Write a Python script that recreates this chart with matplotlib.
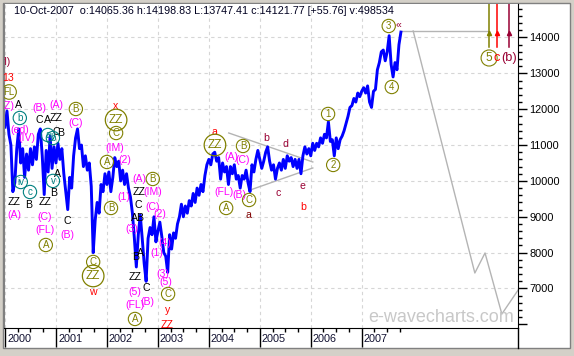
import matplotlib.pyplot as plt
from matplotlib.lines import Line2D
from matplotlib.patches import Rectangle

# DJIA swing points, ~2 per month, per year
dji_2000 = [11500, 11950, 11300, 11000, 9700, 9950, 10900, 11450, 10500, 10900, 10100, 10750, 10300,
            10900, 10450, 10950, 10600, 11300, 11450, 10700, 9620, 10850, 10250, 11250, 10350, 10950]
dji_2001 = [10500, 11050, 10600, 10900, 10200, 9700, 9200, 10100, 9800, 10700, 11200, 11450, 10900,
            11000, 10400, 10700, 10300, 10500, 9850, 8000, 8900, 9400, 9100, 9900, 9700, 10200]
dji_2002 = [9900, 10250, 9700, 10100, 10650, 10400, 10550, 10000, 10300, 9900, 10200, 9800, 9550,
            9100, 8400, 7600, 8500, 9050, 8400, 7700, 7200, 8400, 8700, 8500, 9000, 8300]
dji_2003 = [8600, 8850, 8450, 8000, 7900, 7450, 8500, 8100, 8550, 8400, 8800, 9000, 9350,
            9000, 9300, 9100, 9450, 9300, 9650, 9400, 9800, 9600, 9900, 9700, 10150, 10450]
dji_2004 = [10600, 10450, 10750, 10800, 10550, 10650, 10050, 10500, 10250, 10400, 9900, 10400, 10200,
            10450, 10050, 10150, 9800, 10150, 10050, 10300, 9950, 9700, 10450, 10250, 10600, 10850]
dji_2005 = [10600, 10350, 10550, 10800, 10950, 10550, 10300, 10450, 10050, 10350, 10500, 10300, 10600,
            10350, 10700, 10550, 10650, 10400, 10600, 10350, 10600, 10200, 10700, 10950, 10750, 10900]
dji_2006 = [10700, 11050, 10850, 11050, 10950, 11200, 11050, 11300, 11200, 11650, 11100, 11150, 10700,
            11200, 10900, 11150, 11250, 11400, 11600, 11800, 12050, 12100, 12300, 12200, 12450, 12350]
dji_2007 = [12500, 12600, 12450, 12650, 12200, 12050, 12500, 12550, 13100, 13300, 13600, 13650, 13350,
            13600, 14050, 13250, 12900, 13300, 13100, 13800, 14150]
price_years = [2000, 2001, 2002, 2003, 2004, 2005, 2006, 2007]
price_series = [dji_2000, dji_2001, dji_2002, dji_2003, dji_2004, dji_2005, dji_2006, dji_2007]

# projected path (gray)
proj_t = [2008.01, 2009.22, 2009.42, 2009.75, 2010.07]
proj_v = [14181, 7432, 7990, 6288, 6958]
flat_t = [2007.77, 2009.50]
flat_v = [14181, 14181]
# triangle boundaries
tri_upper_t, tri_upper_v = [2004.39, 2006.04], [11337, 10528]
tri_lower_t, tri_lower_v = [2004.81, 2006.04], [9746, 10361]
# time markers at top right
mark_t = [2009.50, 2009.65, 2009.89]

header = "10-Oct-2007  o:14065.36 h:14198.83 L:13747.41 c:14121.77 [+55.76] v:498534"

M, O, R, DR, K, T = '#ff00ff', '#808000', '#ff0000', '#990033', '#000000', '#008080'
mark_colors = [O, R, DR]

# wave labels: text, year, value, colour, kind (t plain, c circle, C big circle, big = right side)
labels = [
    ("(fl)", 1999.98, 13317, DR, 't'), ("13", 2000.06, 12870, R, 't'),
    ("FL", 2000.08, 12480, O, 'c'), ("(ZZ)", 1999.98, 12090, M, 't'),
    ("A", 2000.27, 12117, K, 't'), ("b", 2000.29, 11755, T, 'c'),
    ("(ed)", 2000.29, 11420, M, 't'), ("(IV)", 2000.43, 11197, M, 't'),
    ("C", 2000.67, 11699, K, 't'), ("A", 2000.84, 11699, K, 't'),
    ("ZZ", 2001.00, 11755, K, 't'), ("C", 2001.00, 11364, K, 't'),
    ("B", 2001.10, 11336, K, 't'), ("a", 2000.84, 11281, T, 'c'),
    ("b", 2000.94, 11197, T, 'c'), ("(B)", 2000.67, 12034, M, 't'),
    ("(A)", 2001.00, 12117, M, 't'), ("B", 2001.39, 12006, O, 'c'),
    ("(C)", 2001.39, 11615, M, 't'), ("A", 2001.02, 10193, K, 't'),
    ("iv", 2000.31, 9970, T, 'c'), ("v", 2000.94, 10000, T, 'c'),
    ("c", 2000.49, 9691, T, 'c'), ("ZZ", 2000.18, 9412, K, 't'),
    ("B", 2000.47, 9329, K, 't'), ("ZZ", 2000.78, 9412, K, 't'),
    ("B", 2000.96, 9663, K, 't'), ("(A)", 2000.18, 9050, M, 't'),
    ("(C)", 2000.78, 8994, M, 't'), ("(FL)", 2000.78, 8632, M, 't'),
    ("A", 2000.80, 8213, O, 'c'), ("C", 2001.22, 8882, K, 't'),
    ("(B)", 2001.22, 8492, M, 't'), ("C", 2001.73, 7740, O, 'c'),
    ("ZZ", 2001.73, 7349, O, 'C'), ("w", 2001.73, 6902, R, 't'),
    ("x", 2002.16, 12090, R, 't'), ("ZZ", 2002.18, 11699, O, 'C'),
    ("C", 2002.18, 11336, O, 'c'), ("(IM)", 2002.16, 10918, M, 't'),
    ("A", 2002.00, 10528, O, 'c'), ("(2)", 2002.35, 10584, M, 't'),
    ("B", 2002.08, 9245, O, 'c'), ("(1)", 2002.34, 9552, M, 't'),
    ("ZZ", 2002.63, 9691, K, 't'), ("(A)", 2002.63, 10054, M, 't'),
    ("B", 2002.90, 10054, O, 'c'), ("(IM)", 2002.90, 9691, M, 't'),
    ("C", 2002.61, 9329, K, 't'), ("(C)", 2002.90, 9273, M, 't'),
    ("AB", 2002.61, 8966, K, 't'), ("(2)", 2003.04, 9078, M, 't'),
    ("(3)", 2002.49, 8660, M, 't'), ("A", 2002.65, 7990, K, 't'),
    ("B", 2002.57, 7879, K, 't'), ("ZZ", 2002.55, 7321, K, 't'),
    ("C", 2002.77, 7015, K, 't'), ("(5)", 2002.55, 6902, M, 't'),
    ("(FL)", 2002.55, 6540, M, 't'), ("(B)", 2002.79, 6624, M, 't'),
    ("A", 2002.55, 6150, O, 'c'), ("(4)", 2003.14, 8269, M, 't'),
    ("(1)", 2002.98, 7990, M, 't'), ("(3)", 2003.10, 7405, M, 't'),
    ("(5)", 2003.16, 7182, M, 't'), ("C", 2003.20, 6847, O, 'c'),
    ("y", 2003.20, 6401, R, 't'), ("ZZ", 2003.18, 5983, R, 't'),
    ("a", 2004.10, 11364, R, 't'), ("ZZ", 2004.12, 11002, O, 'C'),
    ("B", 2004.67, 10974, O, 'c'), ("(A)", 2004.45, 10667, M, 't'),
    ("(C)", 2004.67, 10584, M, 't'), ("(FL)", 2004.30, 9691, M, 't'),
    ("(B)", 2004.59, 9607, M, 't'), ("C", 2004.79, 9468, O, 'c'),
    ("A", 2004.34, 9245, O, 'c'), ("a", 2004.77, 9050, '#800000', 't'),
    ("b", 2005.12, 11197, DR, 't'), ("d", 2005.51, 11030, DR, 't'),
    ("c", 2005.36, 9663, DR, 't'), ("e", 2005.83, 9858, DR, 't'),
    ("b", 2005.85, 9273, R, 't'), ("1", 2006.34, 11867, O, 'c'),
    ("2", 2006.44, 10445, O, 'c'), ("3", 2007.53, 14321, O, 'c'),
    ("\u00ab", 2007.73, 14349, DR, 't'), ("4", 2007.59, 12619, O, 'c'),
    ("5", 2009.50, 13428, O, 'cb'), ("c", 2009.65, 13428, R, 'tb'),
    ("(b)", 2009.89, 13428, DR, 'tb'),
]

plt.rcParams['font.family'] = ['Liberation Sans', 'DejaVu Sans']

W, H = 574, 356
fig = plt.figure(figsize=(W / 100, H / 100), dpi=100, facecolor='#d4d0c8')
fig.add_artist(Rectangle((3 / W, 1 - 348 / H), 567 / W, 345 / H, transform=fig.transFigure,
                         fc='white', ec='#808080', lw=1, zorder=-10))
ax = fig.add_axes([4 / W, 1 - 328 / H, 514 / W, 324 / H])
ax.set_xlim(1999.98, 2010.067)
ax.set_ylim(5898, 14934)

# grid
for v in range(7000, 15000, 1000):
    ax.axhline(v, color='#d6d6d6', ls=(0, (3, 3)), lw=0.8, zorder=0)
for yr in price_years:
    ax.axvline(yr, color='#d6d6d6', ls=(0, (3, 3)), lw=0.8, zorder=0)

# price
t_all, v_all = [], []
for yr, vals in zip(price_years, price_series):
    for i, v in enumerate(vals):
        t_all.append(yr + i / 26)
        v_all.append(v)
ax.plot(t_all, v_all, color='#0000ff', lw=2.1, zorder=2)

# projections
gray = '#b4b4b4'
ax.plot(proj_t, proj_v, color=gray, lw=1, zorder=1)
ax.plot(flat_t, flat_v, color=gray, lw=1, zorder=1)
ax.plot(tri_upper_t, tri_upper_v, color=gray, lw=1, zorder=1)
ax.plot(tri_lower_t, tri_lower_v, color=gray, lw=1, zorder=1)
for mt, mc in zip(mark_t, mark_colors):
    ax.plot([mt, mt], [13735, 14934], color=mc, lw=1.1, zorder=3)
    ax.plot([mt], [14125], marker='^', ms=3, color=mc, zorder=3)

for txt, x, y, col, kind in labels:
    kw = dict(ha='center', va='center', color=col, fontsize=7.6, clip_on=True, zorder=4)
    if kind.startswith('c'):
        kw['bbox'] = dict(boxstyle='circle,pad=0.17', fc='none', ec=col, lw=0.8)
        kw['fontsize'] = 7.0
    elif kind == 'C':
        kw['bbox'] = dict(boxstyle='circle,pad=0.3', fc='none', ec=col, lw=0.9)
        kw['fontsize'] = 8.5
    if kind.endswith('b'):
        kw['fontsize'] += 1.6
    ax.text(x, y, txt, **kw)

# axes styling
ax.spines['top'].set_visible(False)
ax.spines['left'].set_color('#808080')
ax.spines['right'].set_color('black')
ax.spines['bottom'].set_color('black')
ax.set_xticks(price_years)
ax.set_xticks([yr + q / 4 for yr in price_years for q in (1, 2, 3)], minor=True)
ax.tick_params(axis='x', which='major', direction='out', length=13.5, width=1, labelbottom=False)
ax.tick_params(axis='x', which='minor', direction='out', length=3, width=1)
ax.yaxis.tick_right()
yt = list(range(6000, 15000, 1000))
ax.set_yticks(yt)
ax.set_yticklabels([''] + [str(v) for v in yt[1:]])
ax.set_yticks([v for v in range(6000, 15000, 200) if v % 1000], minor=True)
ax.tick_params(axis='y', which='major', direction='out', length=6.5, width=1, pad=1.5, labelsize=7.9)
ax.tick_params(axis='y', which='minor', direction='out', length=3, width=1)

xtr = ax.get_xaxis_transform()
for yr in price_years:
    ax.text(yr + 0.04, -0.034, str(yr), transform=xtr, ha='left', va='center', fontsize=7.8,
            color='#101030', clip_on=False)

fig.add_artist(Line2D([518 / W, 518 / W], [1 - 328 / H, 1 - 348 / H], color='black', lw=1,
                      transform=fig.transFigure))
fig.text(14 / W, 1 - 11 / H, header, ha='left', va='center', fontsize=7.75, color='#000020')
fig.text(514 / W, 1 - 318 / H, 'e-wavecharts.com', ha='right', va='center', fontsize=13,
         color='#c8c8c8', zorder=1)

fig.savefig('out.png', dpi=100, facecolor=fig.get_facecolor())
